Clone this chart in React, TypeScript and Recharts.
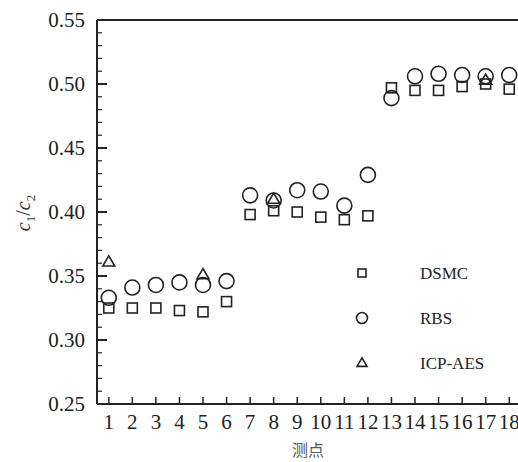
import React from "react"
import {
  ScatterChart,
  Scatter,
  XAxis,
  YAxis,
  ReferenceLine,
  Legend,
} from "recharts"

const points = [1, 2, 3, 4, 5, 6, 7, 8, 9, 10, 11, 12, 13, 14, 15, 16, 17, 18]
const dsmc = [0.325, 0.325, 0.325, 0.323, 0.322, 0.33, 0.398, 0.401, 0.4, 0.396, 0.394, 0.397, 0.497, 0.495, 0.495, 0.498, 0.5, 0.496]
const rbs = [0.333, 0.341, 0.343, 0.345, 0.343, 0.346, 0.413, 0.409, 0.417, 0.416, 0.405, 0.429, 0.489, 0.506, 0.508, 0.507, 0.506, 0.507]
const icpPoints = [1, 5, 8, 17]
const icp = [0.361, 0.351, 0.41, 0.503]

const yMajorTicks = [0.25, 0.3, 0.35, 0.4, 0.45, 0.5, 0.55]
const yAllTicks = [
  0.25, 0.26, 0.27, 0.28, 0.29, 0.3, 0.31, 0.32, 0.33, 0.34, 0.35, 0.36, 0.37, 0.38, 0.39, 0.4,
  0.41, 0.42, 0.43, 0.44, 0.45, 0.46, 0.47, 0.48, 0.49, 0.5, 0.51, 0.52, 0.53, 0.54, 0.55,
]
const seriesNames = ["DSMC", "RBS", "ICP-AES"]

const INK = "#222"
const SERIF = "'Liberation Serif', 'Times New Roman', serif"
const serifText = { fontFamily: SERIF, fontSize: 21, fill: INK }

const dsmcData = points.map((x, i) => ({ x, y: dsmc[i] }))
const rbsData = points.map((x, i) => ({ x, y: rbs[i] }))
const icpData = icpPoints.map((x, i) => ({ x, y: icp[i] }))

function Square({ cx, cy, s = 10 }: any) {
  return <rect x={cx - s / 2} y={cy - s / 2} width={s} height={s} fill="none" stroke={INK} strokeWidth={1.6} />
}

function Circle({ cx, cy, r = 7.5 }: any) {
  return <circle cx={cx} cy={cy} r={r} fill="none" stroke={INK} strokeWidth={1.6} />
}

function Triangle({ cx, cy, s = 12 }: any) {
  const h = s * 0.85
  const pts = `${cx},${cy - h * 0.6} ${cx - s / 2},${cy + h * 0.4} ${cx + s / 2},${cy + h * 0.4}`
  return <polygon points={pts} fill="none" stroke={INK} strokeWidth={1.6} />
}

function XTick({ x, y, payload }: any) {
  return (
    <g>
      <line x1={x} y1={y} x2={x} y2={y - 7} stroke={INK} strokeWidth={1.5} />
      <text x={x} y={y + 25} textAnchor="middle" style={serifText}>
        {payload.value}
      </text>
    </g>
  )
}

function YTick({ x, y, payload }: any) {
  const major = yMajorTicks.some((t) => Math.abs(t - payload.value) < 1e-6)
  return (
    <g>
      <line x1={x} y1={y} x2={x + (major ? 10 : 5)} y2={y} stroke={INK} strokeWidth={major ? 2 : 1.2} />
      {major && (
        <text x={x - 12} y={y + 7} textAnchor="end" style={serifText}>
          {payload.value.toFixed(2)}
        </text>
      )}
    </g>
  )
}

function LegendBox() {
  const rows = [
    <Square cx={12} cy={18} s={8} />,
    <Circle cx={12} cy={63} r={5.5} />,
    <Triangle cx={12} cy={108} s={10} />,
  ]
  return (
    <svg width={170} height={125}>
      {seriesNames.map((name, i) => (
        <g key={name}>
          {rows[i]}
          <text x={70} y={18 + i * 45 + 6} style={{ ...serifText, fontSize: 17 }}>
            {name}
          </text>
        </g>
      ))}
    </svg>
  )
}

export default function App() {
  return (
    <div style={{ position: "fixed", left: 0, top: 0, width: 518, height: 462, overflow: "hidden", background: "#fff" }}>
      <ScatterChart width={526} height={462} margin={{ top: 20, right: 5, left: 0, bottom: 0 }}>
        <XAxis
          type="number"
          dataKey="x"
          domain={[0.5, 18.5]}
          ticks={points}
          interval={0}
          allowDataOverflow
          height={58}
          tickSize={0}
          tickMargin={0}
          tickLine={false}
          axisLine={{ stroke: INK, strokeWidth: 2 }}
          tick={<XTick />}
        />
        <YAxis
          type="number"
          dataKey="y"
          domain={[0.25, 0.55]}
          ticks={yAllTicks}
          interval={0}
          allowDataOverflow
          width={97}
          tickSize={0}
          tickMargin={0}
          tickLine={false}
          axisLine={{ stroke: INK, strokeWidth: 2 }}
          tick={<YTick />}
        />
        <ReferenceLine y={0.55} stroke={INK} strokeWidth={2} />
        <Scatter name="DSMC" data={dsmcData} shape={(p: any) => <Square cx={p.cx} cy={p.cy} />} isAnimationActive={false} />
        <Scatter name="RBS" data={rbsData} shape={(p: any) => <Circle cx={p.cx} cy={p.cy} />} isAnimationActive={false} />
        <Scatter name="ICP-AES" data={icpData} shape={(p: any) => <Triangle cx={p.cx} cy={p.cy} />} isAnimationActive={false} />
        <Legend
          layout="horizontal"
          verticalAlign="middle"
          align="center"
          content={<LegendBox />}
          wrapperStyle={{ left: 350, top: 255, width: 170, height: 125 }}
        />
      </ScatterChart>
      <div
        style={{
          position: "absolute",
          left: 308,
          top: 449,
          transform: "translate(-50%, -50%)",
          fontFamily: "'Noto Sans CJK SC', sans-serif",
          fontSize: 16,
          lineHeight: "18px",
          color: "#555",
          whiteSpace: "nowrap",
        }}
      >
        测点
      </div>
      <div
        style={{
          position: "absolute",
          left: 25,
          top: 213,
          transform: "translate(-50%, -50%) rotate(-90deg)",
          fontFamily: SERIF,
          fontSize: 20,
          color: "#333",
          whiteSpace: "nowrap",
        }}
      >
        <i>c</i>
        <sub style={{ fontSize: 13 }}>1</sub>/<i>c</i>
        <sub style={{ fontSize: 13 }}>2</sub>
      </div>
    </div>
  )
}
